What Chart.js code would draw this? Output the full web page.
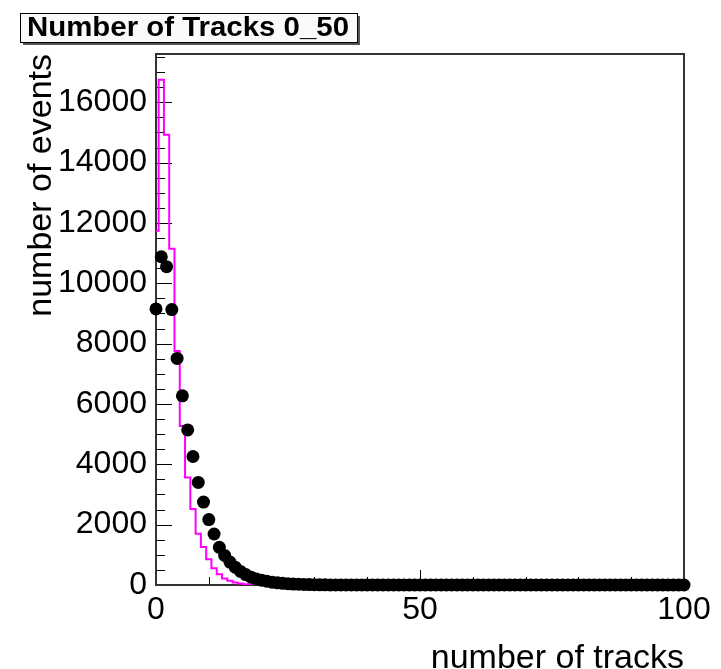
<!DOCTYPE html>
<html><head><meta charset="utf-8">
<script src="https://cdn.jsdelivr.net/npm/chart.js@4/dist/chart.umd.min.js"></script>
<style>html,body{margin:0;padding:0;background:#fff;}#wrap{width:721px;height:669px;}</style>
</head><body><div id="wrap"><canvas id="c" width="721" height="669"></canvas></div>
<script>
const chartTitle = 'Number of Tracks 0_50';
const xAxisTitle = 'number of tracks';
const yAxisTitle = 'number of events';
const xTickLabels = [0, 50, 100];
const yTickLabels = [0, 2000, 4000, 6000, 8000, 10000, 12000, 14000, 16000];

const trackCounts = [0,1,2,3,4,5,6,7,8,9,10,11,12,13,14,15,16,17,18,19,20,21,22,23,24,25,26,27,28,29,30,31,32,33,34,35,36,37,38,39,40,41,42,43,44,45,46,47,48,49,50,51,52,53,54,55,56,57,58,59,60,61,62,63,64,65,66,67,68,69,70,71,72,73,74,75,76,77,78,79,80,81,82,83,84,85,86,87,88,89,90,91,92,93,94,95,96,97,98,99,100];

const dataEvents = [9150,10880,10550,9130,7510,6270,5140,4260,3400,2750,2170,1690,1250,980,760,590,450,345,260,200,160,125,95,72,55,42,32,24,18,13,10,7,5,4,3,2,2,1,1,1,0,0,0,0,0,0,0,0,0,0,0,0,0,0,0,0,0,0,0,0,0,0,0,0,0,0,0,0,0,0,0,0,0,0,0,0,0,0,0,0,0,0,0,0,0,0,0,0,0,0,0,0,0,0,0,0,0,0,0,0,0];

const simEvents = [11740,16750,14925,11144,7760,5270,3560,2520,1700,1260,850,555,355,215,140,85,50,28,15,8,4,2,1,0,0,0,0,0,0,0,0,0,0,0,0,0,0,0,0,0,0,0,0,0,0,0,0,0,0,0,0,0,0,0,0,0,0,0,0,0,0,0,0,0,0,0,0,0,0,0,0,0,0,0,0,0,0,0,0,0,0,0,0,0,0,0,0,0,0,0,0,0,0,0,0,0,0,0,0,0,0];

const FONT = '"Liberation Sans", Arial, Helvetica, sans-serif';

const framePlugin = {
  id: 'frame',
  beforeDatasetsDraw(chart) {
    const {ctx, chartArea: a, scales: {x, y}} = chart;
    ctx.save();
    ctx.strokeStyle = '#000';
    ctx.lineWidth = 1;
    ctx.beginPath();
    for (let v = 0; v <= y.max; v += 500) {
      const py = Math.round(y.getPixelForValue(v)) + 0.5;
      const len = (v % 2000 === 0) ? 16 : 9;
      ctx.moveTo(a.left, py); ctx.lineTo(a.left + len, py);
    }
    for (let v = 0; v <= x.max; v += 10) {
      const px = Math.round(x.getPixelForValue(v)) + 0.5;
      const len = (v % 50 === 0) ? 15 : 8;
      ctx.moveTo(px, a.bottom); ctx.lineTo(px, a.bottom - len);
    }
    ctx.stroke();
    ctx.lineWidth = 2;
    ctx.strokeStyle = '#333';
    ctx.strokeRect(a.left, a.top, a.right - a.left, a.bottom - a.top);
    ctx.restore();
  },
  afterDraw(chart) {
    const ctx = chart.ctx;
    ctx.save();
    const bx = 20, by = 13, bw = 337, bh = 29;
    ctx.fillStyle = '#555';
    ctx.fillRect(bx + 3, by + 3, bw, bh);
    ctx.fillStyle = '#fafafa';
    ctx.fillRect(bx, by, bw, bh);
    ctx.strokeStyle = '#000';
    ctx.lineWidth = 1;
    ctx.strokeRect(bx + 0.5, by + 0.5, bw, bh);
    ctx.font = 'bold 27px ' + FONT;
    ctx.fillStyle = '#000';
    ctx.textBaseline = 'middle';
    const w = ctx.measureText(chartTitle).width;
    const sx = 322 / w;
    ctx.translate(bx + 7, by + bh / 2 + 1);
    ctx.scale(sx, 1);
    ctx.fillText(chartTitle, 0, 0);
    ctx.restore();
  }
};

const chart = new Chart(document.getElementById('c'), {
  type: 'line',
  data: {
    datasets: [
      {
        label: 'data',
        data: trackCounts.map((t, i) => ({x: t, y: dataEvents[i]})),
        showLine: false,
        pointRadius: 6.5,
        pointBackgroundColor: '#000',
        pointBorderWidth: 0,
        pointBorderColor: '#000',
        clip: false,
        order: 0
      },
      {
        label: 'sim',
        data: trackCounts.map((t, i) => ({x: t, y: simEvents[i]})),
        showLine: true,
        stepped: 'middle',
        borderColor: '#ff00ff',
        borderWidth: 2,
        pointRadius: 0,
        fill: false,
        order: 1
      }
    ]
  },
  options: {
    responsive: false,
    animation: false,
    devicePixelRatio: 1,
    layout: {padding: {left: 0, right: 37, top: 54, bottom: 0}},
    plugins: {legend: {display: false}, tooltip: {enabled: false}, title: {display: false}},
    scales: {
      x: {
        type: 'linear', min: 0, max: 100,
        grid: {display: false, drawTicks: false},
        border: {display: false},
        afterBuildTicks: s => { s.ticks = xTickLabels.map(v => ({value: v})); },
        ticks: {padding: 6, color: '#000', font: {family: FONT, size: 32}, maxRotation: 0, autoSkip: false,
                callback: v => String(v)},
        title: {display: true, text: xAxisTitle, align: 'end', color: '#000',
                font: {family: FONT, size: 34, lineHeight: 0.6}, padding: {top: 0, bottom: 0}},
        afterFit: s => { s.height = 84; }
      },
      y: {
        type: 'linear', min: 0, max: 17600,
        grid: {display: false, drawTicks: false},
        border: {display: false},
        afterBuildTicks: s => { s.ticks = yTickLabels.map(v => ({value: v})); },
        ticks: {padding: 9, color: '#000', font: {family: FONT, size: 32}, autoSkip: false,
                callback: v => String(v)},
        title: {display: true, text: yAxisTitle, align: 'end', color: '#000',
                font: {family: FONT, size: 34, lineHeight: 0.8}, padding: {top: 28, bottom: 0}},
        afterFit: s => { s.width = 156; }
      }
    }
  },
  plugins: [framePlugin]
});
</script>
</body></html>
